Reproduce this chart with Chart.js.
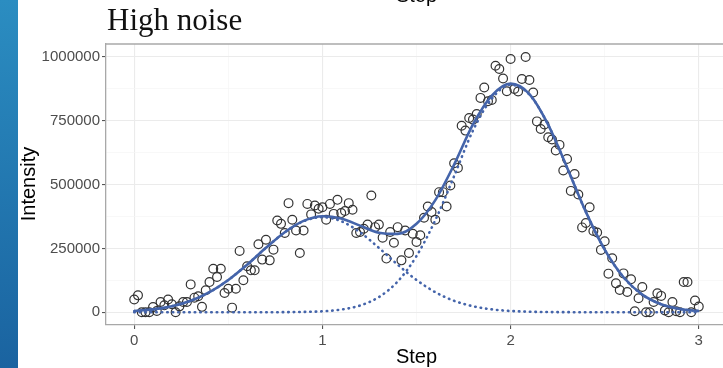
<!DOCTYPE html>
<html>
<head>
<meta charset="utf-8">
<script src="https://cdn.jsdelivr.net/npm/chart.js@4.4.1/dist/chart.umd.min.js"></script>
<style>
  html, body { margin: 0; padding: 0; background: #ffffff; }
  body { width: 723px; height: 368px; overflow: hidden; position: relative; }
  #strip { position: absolute; left: 0; top: 0; width: 18px; height: 368px;
           background: linear-gradient(#2b8dc1, #1a63a0); z-index: 2; }
  #wrap { position: absolute; left: 0; top: 0; width: 760px; height: 368px; }
  .txt { position: absolute; white-space: nowrap; color: #000; }
  #title { left: 107px; top: 4.5px; font: 31px/30px "Liberation Serif", "Times New Roman", serif; color: #111; }
  #topStep { left: 416.5px; top: -15.5px; transform: translateX(-50%);
             font: 20px/20px "Liberation Sans", Arial, sans-serif; }
  #xTitle { left: 416.5px; top: 345.5px; transform: translateX(-50%);
            font: 20px/20px "Liberation Sans", Arial, sans-serif; }
  #yTitle { left: 27.5px; top: 184px; transform: translate(-50%, -50%) rotate(-90deg);
            font: 20px/20px "Liberation Sans", Arial, sans-serif; }
</style>
</head>
<body>
<div id="strip"></div>
<div id="wrap"><canvas id="c" width="760" height="368"></canvas></div>
<div class="txt" id="title">High noise</div>
<div class="txt" id="topStep">Step</div>
<div class="txt" id="xTitle">Step</div>
<div class="txt" id="yTitle">Intensity</div>
<script>
// ---- Data ----
const stepX = [0.00,0.02,0.04,0.06,0.08,0.10,0.12,0.14,0.16,0.18,0.20,0.22,0.24,0.26,0.28,0.30,0.32,0.34,0.36,0.38,
  0.40,0.42,0.44,0.46,0.48,0.50,0.52,0.54,0.56,0.58,0.60,0.62,0.64,0.66,0.68,0.70,0.72,0.74,0.76,0.78,
  0.80,0.82,0.84,0.86,0.88,0.90,0.92,0.94,0.96,0.98,1.00,1.02,1.04,1.06,1.08,1.10,1.12,1.14,1.16,1.18,
  1.20,1.22,1.24,1.26,1.28,1.30,1.32,1.34,1.36,1.38,1.40,1.42,1.44,1.46,1.48,1.50,1.52,1.54,1.56,1.58,
  1.60,1.62,1.64,1.66,1.68,1.70,1.72,1.74,1.76,1.78,1.80,1.82,1.84,1.86,1.88,1.90,1.92,1.94,1.96,1.98,
  2.00,2.02,2.04,2.06,2.08,2.10,2.12,2.14,2.16,2.18,2.20,2.22,2.24,2.26,2.28,2.30,2.32,2.34,2.36,2.38,
  2.40,2.42,2.44,2.46,2.48,2.50,2.52,2.54,2.56,2.58,2.60,2.62,2.64,2.66,2.68,2.70,2.72,2.74,2.76,2.78,
  2.80,2.82,2.84,2.86,2.88,2.90,2.92,2.94,2.96,2.98,3.00];
const intensity = [49600,66000,0,0,0,20000,5000,40000,27000,50000,31000,0,23000,40000,40000,109000,57000,62500,21000,86000,
  118000,170000,138000,170000,75000,92000,18000,92000,240000,125000,180000,164000,164000,266000,206000,284000,203000,245000,359000,346000,
  310000,427000,362000,320000,232000,320000,424000,383000,418000,405000,411000,362000,424000,385000,440000,388000,396000,427000,401000,310000,
  314000,327000,343000,457000,333000,343000,292000,210000,314000,272000,333000,203000,320000,232000,307000,275000,301000,370000,414000,392000,
  362000,470000,470000,414000,496000,583000,565000,730000,711000,760000,754000,776000,839000,880000,826000,831000,965000,952000,915000,865000,
  991000,874000,864000,913000,999000,909000,860000,747000,717000,735000,685000,676000,633000,655000,555000,600000,475000,541000,461000,332000,
  349000,411000,318000,312000,244000,278000,151000,211000,113000,87000,152000,79000,129000,4000,55000,99000,0,0,40000,74000,
  64000,7000,0,40000,4000,0,118000,118000,0,46000,22000];

const fitX = [0.0,0.1,0.2,0.3,0.4,0.5,0.6,0.7,0.8,0.9,1.0,1.1,1.2,1.3,1.4,1.5,1.6,1.7,1.8,1.9,
  2.0,2.1,2.2,2.3,2.4,2.5,2.6,2.7,2.8,2.9,3.0];
const fitTotal = [4900,11200,23400,44700,78400,126200,186200,252100,313200,357500,375700,366700,339100,311300,306600,346000,438900,578000,735000,848000,
  894900,854100,733700,566500,392800,244800,137000,68800,31100,12600,4600];
const fitPeak1 = [4900,11200,23400,44700,78400,126200,186200,252100,312900,356300,372000,356300,312900,252100,186200,126200,78400,44700,23400,11200,
  4900,2000,700,250,80,20,0,0,0,0,0];
const fitPeak2 = [0,0,0,0,0,0,0,0,300,1200,3700,10400,26200,59200,120400,219800,360500,533000,711000,836000,
  890000,852100,733000,566300,392800,244800,137000,68800,31100,12600,4600];

const xMajor = [0, 1, 2, 3];
const xGridVals = [0, 0.5, 1, 1.5, 2, 2.5, 3];
const yMajor = [0, 250000, 500000, 750000, 1000000];
const yGridVals = [0, 125000, 250000, 375000, 500000, 625000, 750000, 875000, 1000000];

// ---- Build datasets ----
const pts = stepX.map((x, i) => ({ x: x, y: intensity[i] }));
const line = arr => fitX.map((x, i) => ({ x: x, y: arr[i] }));

const BLUE = '#4464aa';
const tickFont = { family: '"Liberation Sans", Arial, sans-serif', size: 15 };

const panelBorder = {
  id: 'panelBorder',
  afterDraw(chart) {
    const { ctx, chartArea } = chart;
    ctx.save();
    ctx.strokeStyle = '#a8a8a8';
    ctx.lineWidth = 1.3;
    ctx.beginPath();
    ctx.moveTo(chartArea.left, chartArea.top);
    ctx.lineTo(chartArea.right + 5, chartArea.top);
    ctx.stroke();
    ctx.restore();
  }
};

new Chart(document.getElementById('c'), {
  data: {
    datasets: [
      { type: 'line', data: line(fitTotal), borderColor: BLUE, borderWidth: 2.6,
        pointRadius: 0, cubicInterpolationMode: 'monotone', order: 0 },
      { type: 'line', data: line(fitPeak1), borderColor: BLUE, borderWidth: 2.6,
        borderDash: [0.5, 5], borderCapStyle: 'round',
        pointRadius: 0, cubicInterpolationMode: 'monotone', order: 1 },
      { type: 'line', data: line(fitPeak2), borderColor: BLUE, borderWidth: 2.6,
        borderDash: [0.5, 5], borderCapStyle: 'round',
        pointRadius: 0, cubicInterpolationMode: 'monotone', order: 1 },
      { type: 'scatter', data: pts, pointRadius: 4.4, pointBorderWidth: 1.2,
        pointBackgroundColor: 'rgba(0,0,0,0)', pointBorderColor: '#333333', order: 3 }
    ]
  },
  options: {
    responsive: false,
    animation: false,
    devicePixelRatio: 1,
    layout: { padding: { top: 44, right: 33, bottom: 0, left: 0 } },
    plugins: { legend: { display: false }, tooltip: { enabled: false }, title: { display: false } },
    scales: {
      x: {
        type: 'linear', min: -0.15, max: 3.15,
        afterBuildTicks: s => { s.ticks = xGridVals.map(v => ({ value: v })); },
        afterFit: s => { s.height = 43; },
        ticks: {
          autoSkip: false, maxRotation: 0, padding: 3, color: '#4d4d4d', font: tickFont,
          callback: v => xMajor.includes(v) ? String(v) : ''
        },
        grid: {
          color: c => xMajor.includes(c.tick && c.tick.value) ? '#ebebeb' : '#f5f5f5',
          lineWidth: c => xMajor.includes(c.tick && c.tick.value) ? 1.1 : 0.7,
          tickColor: c => xMajor.includes(c.tick && c.tick.value) ? '#555555' : 'rgba(0,0,0,0)',
          tickLength: 4
        },
        border: { color: '#a8a8a8', width: 1.3 }
      },
      y: {
        type: 'linear', min: -50000, max: 1050000,
        afterBuildTicks: s => { s.ticks = yGridVals.map(v => ({ value: v })); },
        afterFit: s => { s.width = 106; },
        ticks: {
          autoSkip: false, padding: 2, color: '#4d4d4d', font: tickFont,
          callback: v => yMajor.includes(v) ? String(v) : ''
        },
        grid: {
          color: c => yMajor.includes(c.tick && c.tick.value) ? '#ebebeb' : '#f5f5f5',
          lineWidth: c => yMajor.includes(c.tick && c.tick.value) ? 1.1 : 0.7,
          tickColor: c => yMajor.includes(c.tick && c.tick.value) ? '#555555' : 'rgba(0,0,0,0)',
          tickLength: 4
        },
        border: { color: '#a8a8a8', width: 1.3 }
      }
    }
  },
  plugins: [panelBorder]
});
</script>
</body>
</html>
